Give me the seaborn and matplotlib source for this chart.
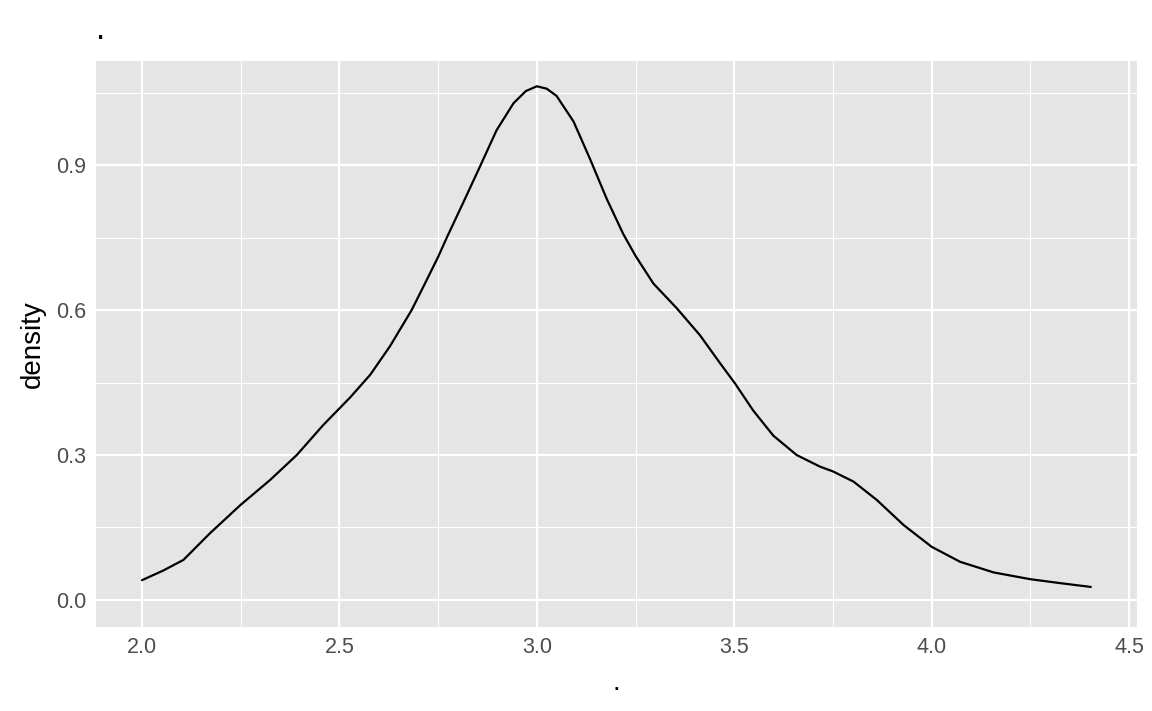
import numpy as np
import pandas as pd
import matplotlib
matplotlib.use("Agg")
import matplotlib.pyplot as plt
import seaborn as sns

# density curve
x_vals = [2.0, 2.054, 2.105, 2.172, 2.25, 2.324, 2.392, 2.459, 2.527, 2.578, 2.628,
          2.683, 2.721, 2.75, 2.772, 2.814, 2.856, 2.898, 2.941, 2.972, 3.0, 3.025,
          3.05, 3.093, 3.135, 3.177, 3.219, 3.25, 3.295, 3.354, 3.413, 3.464, 3.502,
          3.548, 3.599, 3.658, 3.717, 3.75, 3.802, 3.861, 3.929, 4.0, 4.072, 4.157,
          4.25, 4.324, 4.403]
density = [0.041, 0.061, 0.083, 0.138, 0.197, 0.248, 0.300, 0.362, 0.419, 0.466, 0.525,
           0.600, 0.662, 0.710, 0.750, 0.823, 0.897, 0.972, 1.028, 1.053, 1.063, 1.058,
           1.043, 0.990, 0.912, 0.830, 0.757, 0.712, 0.655, 0.604, 0.548, 0.490, 0.448,
           0.392, 0.340, 0.300, 0.276, 0.266, 0.245, 0.207, 0.155, 0.110, 0.079, 0.057,
           0.043, 0.035, 0.027]

x_ticks = [2.0, 2.5, 3.0, 3.5, 4.0, 4.5]
y_ticks = [0.0, 0.3, 0.6, 0.9]

df = pd.DataFrame({"x": x_vals, "density": density})

sns.set_theme(style="darkgrid")
plt.rcParams["font.family"] = ["Liberation Sans", "DejaVu Sans"]

fig = plt.figure(figsize=(11.52, 7.11), dpi=100)
ax = fig.add_axes([96 / 1152, 1 - 627 / 711, (1137 - 96) / 1152, (627 - 61) / 711])
ax.set_facecolor("#E5E5E5")

sns.lineplot(data=df, x="x", y="density", color="black", linewidth=1.6, ax=ax)

ax.set_xlim(1.8835, 4.520)
ax.set_ylim(-0.0559, 1.1153)
ax.set_xticks(x_ticks)
ax.set_yticks(y_ticks)
ax.set_xticks([2.25, 2.75, 3.25, 3.75, 4.25], minor=True)
ax.set_yticks([0.15, 0.45, 0.75, 1.05], minor=True)
ax.set_xticklabels([f"{v:.1f}" for v in x_ticks])
ax.set_yticklabels([f"{v:.1f}" for v in y_ticks])
ax.grid(which="major", color="white", linewidth=1.6)
ax.grid(which="minor", color="white", linewidth=0.8)
ax.set_axisbelow(True)
for s in ax.spines.values():
    s.set_visible(False)
ax.tick_params(axis="both", which="major", length=4, width=1.2, color="#333333",
               labelsize=15.5, labelcolor="#4D4D4D", pad=3)
ax.tick_params(axis="both", which="minor", length=0)

ax.set_xlabel(".", fontsize=20, color="black", labelpad=9)
ax.set_ylabel("density", fontsize=20, color="black", labelpad=7)
ax.set_title(".", loc="left", fontsize=24, color="black", pad=16)

fig.savefig("out.png", dpi=100)
